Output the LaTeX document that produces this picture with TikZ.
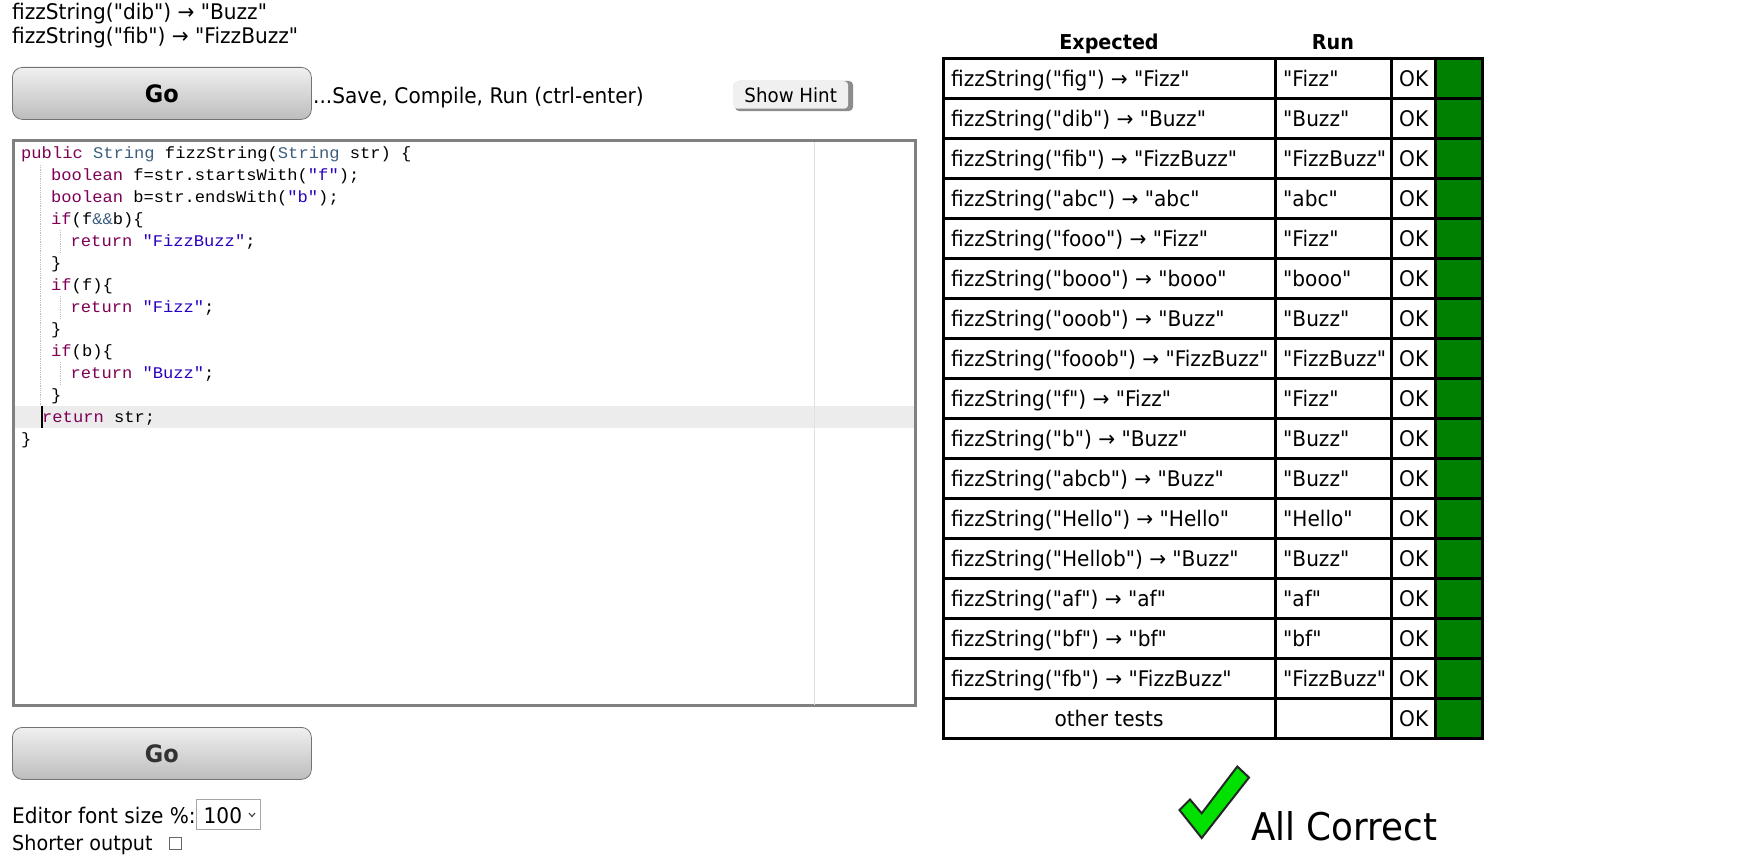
\documentclass[tikz,border=0pt]{standalone}
\usepackage{fontspec}
\setmainfont{DejaVu Sans}[FakeStretch=0.935,Ligatures=TeXOff]
\newfontfamily\codefont{Liberation Mono}[FakeStretch=1.05,Ligatures=TeXOff]
\definecolor{kw}{HTML}{7F0055}
\definecolor{ty}{HTML}{3F5F7F}
\definecolor{st}{HTML}{2A00C0}
\definecolor{okgreen}{HTML}{008000}
\tikzset{
 x=1pt,y=-1pt,
 txt/.style={anchor=base west,inner sep=0pt,font=\fontsize{21.5}{24}\selectfont,text=black},
 hdr/.style={anchor=base,inner sep=0pt,font=\fontsize{20.5}{24}\selectfont\bfseries},
 code/.style={anchor=base west,inner sep=0pt,font=\codefont\fontsize{16.3}{18}\selectfont},
 gobtn/.style={anchor=north west,inner sep=0pt,minimum width=299pt,minimum height=52pt,rounded corners=10pt,draw=black!55,line width=0.8pt,top color=black!6,bottom color=black!26,font=\fontsize{24}{26}\selectfont\bfseries},
 cellbox/.style={draw=black,line width=3pt},
}
\newcommand{\K}[1]{\textcolor{kw}{#1}}
\newcommand{\T}[1]{\textcolor{ty}{#1}}
\newcommand{\Sx}[1]{\textcolor{st}{#1}}
\begin{document}
\begin{tikzpicture}
\useasboundingbox (0,0) rectangle (1762,859);
\fill[white] (0,0) rectangle (1762,859);
% top text
\node[txt] (ex1) at (12,20) {fizzString("dib") → "Buzz"};
\node[txt] (ex2) at (12,44) {fizzString("fib") → "FizzBuzz"};
\node[gobtn,text=black] (go1) at (12,67) {Go};
\node[txt] (save) at (313,103.5) {...Save, Compile, Run (ctrl-enter)};
\fill[black!45,rounded corners=4pt] (735,81) rectangle (853,111);
\node[anchor=north west,inner sep=0pt,minimum width=115pt,minimum height=27.5pt,fill=black!6,rounded corners=4pt,font=\fontsize{19.5}{22}\selectfont] (hint) at (733,81) {Show Hint};
% editor
\node[anchor=north west,draw=black!50,line width=3pt,fill=white,minimum width=902pt,minimum height=565pt,inner sep=0pt] (editor) at (12,139) {};
\fill[black!7.5] (15,406) rectangle (914,428);
\draw[black!12,line width=1pt] (814,142) -- (814,705);
\draw[black!25,line width=0.8pt,densely dotted] (40,165) -- (40,406);
\draw[black!25,line width=0.8pt,densely dotted] (60,230) -- (60,252) (60,296) -- (60,318) (60,362) -- (60,384);
\node[code] (c0) at (21,158) {\K{public} \T{String} fizzString(\T{String} str) \{};
\node[code] (c1) at (51,180) {\K{boolean} f=str.startsWith(\Sx{"f"});};
\node[code] (c2) at (51,202) {\K{boolean} b=str.endsWith(\Sx{"b"});};
\node[code] (c3) at (51,224) {\K{if}(f\textcolor{ty}{\&\&}b)\{};
\node[code] (c4) at (70.5,246) {\K{return} \Sx{"FizzBuzz"};};
\node[code] (c5) at (51,268) {\}};
\node[code] (c6) at (51,290) {\K{if}(f)\{};
\node[code] (c7) at (70.5,312) {\K{return} \Sx{"Fizz"};};
\node[code] (c8) at (51,334) {\}};
\node[code] (c9) at (51,356) {\K{if}(b)\{};
\node[code] (c10) at (70.5,378) {\K{return} \Sx{"Buzz"};};
\node[code] (c11) at (51,400) {\}};
\node[code] (c12) at (42,422) {\K{return} str;};
\node[code] (c13) at (21,444) {\}};
\fill[black] (41,406) rectangle (43.2,428);
\node[gobtn,text=black!80] (go2) at (12,727) {Go};
% bottom controls
\node[txt] (efs) at (12,823) {Editor font size \%:};
\node[anchor=north west,draw=black!35,line width=1pt,minimum width=64pt,minimum height=30pt,inner sep=0pt] (sel) at (196,799) {};
\node[txt] (selv) at (203.5,823) {100};
\draw[black!70,line width=1.2pt] (249,813) -- (252,816.5) -- (255,813);
\node[txt,font=\fontsize{20.5}{24}\selectfont] (so) at (12,850) {Shorter output};
\node[anchor=north west,draw=black!60,line width=1pt,minimum size=12pt,inner sep=0pt] (cb) at (169,837) {};
% table
\node[hdr] (hE) at (1109,50) {Expected};
\node[hdr] (hR) at (1333,50) {Run};
\foreach \i/\e/\r in {
 0/{fizzString("fig") → "Fizz"}/{"Fizz"},
 1/{fizzString("dib") → "Buzz"}/{"Buzz"},
 2/{fizzString("fib") → "FizzBuzz"}/{"FizzBuzz"},
 3/{fizzString("abc") → "abc"}/{"abc"},
 4/{fizzString("fooo") → "Fizz"}/{"Fizz"},
 5/{fizzString("booo") → "booo"}/{"booo"},
 6/{fizzString("ooob") → "Buzz"}/{"Buzz"},
 7/{fizzString("fooob") → "FizzBuzz"}/{"FizzBuzz"},
 8/{fizzString("f") → "Fizz"}/{"Fizz"},
 9/{fizzString("b") → "Buzz"}/{"Buzz"},
 10/{fizzString("abcb") → "Buzz"}/{"Buzz"},
 11/{fizzString("Hello") → "Hello"}/{"Hello"},
 12/{fizzString("Hellob") → "Buzz"}/{"Buzz"},
 13/{fizzString("af") → "af"}/{"af"},
 14/{fizzString("bf") → "bf"}/{"bf"},
 15/{fizzString("fb") → "FizzBuzz"}/{"FizzBuzz"}}{
 \pgfmathsetmacro{\bs}{86.5+40*\i}
 \node[txt] (e\i) at (951,\bs) {\e};
 \node[txt] (r\i) at (1283,\bs) {\r};
}
\foreach \i in {0,...,16}{
 \pgfmathsetmacro{\tp}{58.5+40*\i}
 \pgfmathsetmacro{\bs}{86.5+40*\i}
 \node[txt] (ok\i) at (1399,\bs) {OK};
 \fill[okgreen] (1435,\tp) rectangle (1482.5,\tp+40);
}
\node[txt,anchor=base] (other) at (1109,726.5) {other tests};
\draw[cellbox] (943.5,58.5) rectangle (1482.5,738.5);
\foreach \i in {1,...,16}{\draw[black,line width=3pt] (943.5,58.5+40*\i) -- (1482.5,58.5+40*\i);}
\foreach \cx in {1275,1391,1435}{\draw[black,line width=3pt] (\cx,58.5) -- (\cx,738.5);}
% check
\draw[fill={rgb,255:red,0;green,225;blue,0},draw=black!85,line width=2pt,line join=miter] (1237.3,766.5) -- (1249,777.5) -- (1201.7,838) -- (1179.5,810) -- (1190,799.5) -- (1201.7,813.3) -- cycle;
\node[anchor=base west,inner sep=0pt,font=\fontsize{38.2}{44}\selectfont] (ac) at (1251,840) {All Correct};
\end{tikzpicture}
\end{document}
